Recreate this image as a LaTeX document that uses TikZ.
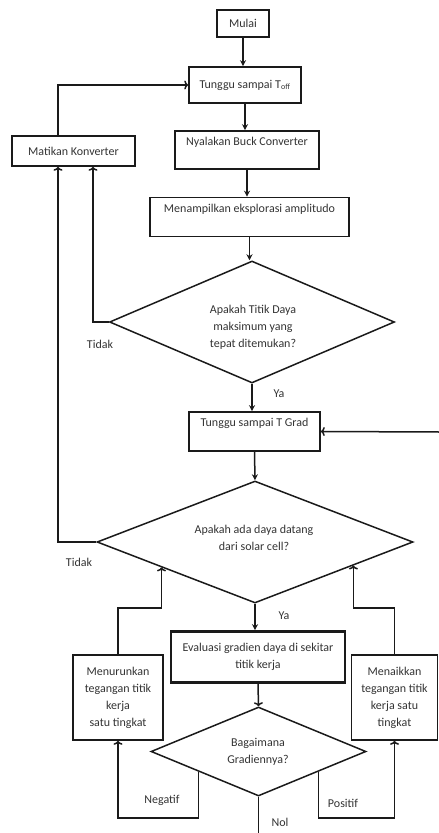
\documentclass[tikz,border=0pt]{standalone}
\usepackage{fontspec}
\setmainfont{Carlito}
\usetikzlibrary{shapes.geometric,arrows.meta,calc}
\definecolor{ink}{HTML}{1A1A1A}
\definecolor{lab}{HTML}{333333}
\tikzset{
  box/.style={draw=ink, line width=1.6pt, rectangle, align=center, inner sep=2pt,
    font=\fontsize{12}{17}\selectfont, text=lab},
  dia/.style={draw=ink, line width=1.5pt, diamond, align=center, inner sep=0pt,
    font=\fontsize{12}{17}\selectfont, text=lab},
  lbl/.style={font=\fontsize{12}{17}\selectfont, text=lab},
  conn/.style={draw=ink, line width=1.5pt},
  dn/.style={conn, -{Stealth[length=6pt,width=6pt]}},
  op/.style={conn, -{To[length=4pt,width=9pt,line width=1.5pt]}},
}
\begin{document}
\begin{tikzpicture}[x=1pt,y=-1pt]
\useasboundingbox (0,0) rectangle (439,833);
% boxes
\node[box, minimum width=52pt, minimum height=27pt] (mulai) at (243,23.5) {Mulai};
\node[box, minimum width=112pt, minimum height=36pt] (toff) at (245,85) {Tunggu sampai T\textsubscript{off}};
\node[box, minimum width=144pt, minimum height=38pt] (nyala) at (247,150) {Nyalakan Buck Converter\\[-4pt]\strut};
\node[box, minimum width=199pt, minimum height=39pt] (menamp) at (249.5,217) {Menampilkan eksplorasi amplitudo\\[-4pt]\strut};
\node[box, minimum width=123pt, minimum height=30pt] (matikan) at (73.5,151) {Matikan Konverter};
\node[dia, minimum width=285pt, minimum height=122pt] (d1) at (252,322) {};
\node[lbl, align=center] at (253,327) {Apakah Titik Daya\\maksimum yang\\tepat ditemukan?};
\node[box, minimum width=131pt, minimum height=39pt] (tgrad) at (254.5,431.5) {Tunggu sampai T Grad\\[-4pt]\strut};
\node[dia, minimum width=316pt, minimum height=122pt] (d2) at (255,542) {};
\node[lbl, align=center] at (254,538) {Apakah ada daya datang\\dari solar cell?};
\node[box, line width=2.6pt, minimum width=174pt, minimum height=51pt] (eval) at (258,657) {Evaluasi gradien daya di sekitar\\titik kerja};
\node[dia, minimum width=215pt, minimum height=89pt] (d3) at (258.5,751.5) {};
\node[lbl, align=center] at (258,752) {Bagaimana\\Gradiennya?};
\node[box, minimum width=90pt, minimum height=85pt] (turun) at (118,697.5) {Menurunkan\\tegangan titik\\kerja\\satu tingkat};
\node[box, minimum width=86pt, minimum height=85pt] (naik) at (394.5,697.5) {Menaikkan\\tegangan titik\\kerja satu\\tingkat};
% helper coordinates
\coordinate (c1) at (58,0);
\coordinate (c2) at (93,0);
\coordinate (rin) at (440,432);
\coordinate (yb) at (0,818);
\coordinate (ym) at (0,608);
\coordinate (bot) at (0,834);
\path (d3.west) -- (d3.south) coordinate[pos=0.4465] (nL);
\path (d3.east) -- (d3.south) coordinate[pos=0.4465] (nR);
\path (d2.west) -- (d2.south) coordinate[pos=0.411] (eL);
\path (d2.east) -- (d2.south) coordinate[pos=0.38] (eR);
% connectors
\draw[dn] (mulai.south) -- (toff.north -| mulai.south);
\draw[dn] (toff.south) -- (nyala.north -| toff.south);
\draw[dn] (nyala.south) -- (menamp.north -| nyala.south);
\draw[dn] (menamp.south) -- (d1.north -| menamp.south);
\draw[op] (matikan.north -| c1) |- (toff.west);
\draw[op] (d1.west) -| (matikan.south -| c2);
\draw[op] (d2.west) -| (matikan.south -| c1);
\draw[dn] (d1.south) -- (tgrad.north -| d1.south);
\draw[op] (rin) -- (tgrad.east);
\draw[dn] (tgrad.south) -- (d2.north);
\draw[dn] (d2.south) -- (eval.north -| d2.south);
\draw[op] (eval.south) -- (d3.north);
\draw[op] (nL) -- (nL |- yb) -| (turun.south);
\draw[op] (nR) -- (nR |- yb) -| (naik.south);
\draw[conn] (d3.south) -- (d3.south |- bot);
\draw[op] (turun.north) -- (turun.north |- ym) -| (eL);
\draw[op] (naik.north) -- (naik.north |- ym) -| (eR);
% labels
\node[lbl] at (100,344) {Tidak};
\node[lbl] at (279,394) {Ya};
\node[lbl] at (79,562) {Tidak};
\node[lbl] at (284,616) {Ya};
\node[lbl] at (162,800) {Negatif};
\node[lbl] at (343,803) {Positif};
\node[lbl] at (280,822) {Nol};
\end{tikzpicture}
\end{document}
